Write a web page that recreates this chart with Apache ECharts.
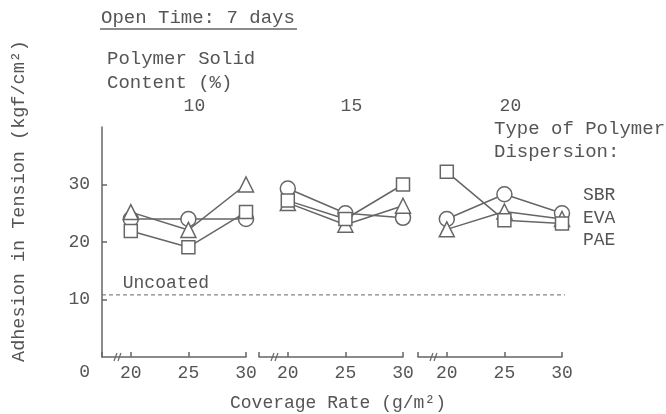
<!DOCTYPE html>
<html>
<head>
<meta charset="utf-8">
<script src="https://cdn.jsdelivr.net/npm/echarts@6/dist/echarts.min.js"></script>
<style>
  html, body { margin: 0; padding: 0; background: #fff; }
  #chart { width: 666px; height: 414px; }
</style>
</head>
<body>
<div id="chart"></div>
<script>
// coverage rate (g/m2) at each panel, polymer solid content (%) per panel
const coverage = [20, 25, 30]
const solidContent = ['10', '15', '20']
// adhesion in tension (kgf/cm2), one row per panel
const sbr = [[24, 24, 24], [29.3, 25, 24.2], [24, 28.3, 25]]
const eva = [[25.2, 22.1, 30], [26.8, 23, 26.3], [22.2, 25.3, 24]]
const pae = [[21.9, 19.1, 25.2], [27.2, 24, 30], [32.2, 23.8, 23.2]]
const uncoated = 10.8
const yTicks = [10, 20, 30]
const xTicks = [20, 25, 30]

const FONT = "'Liberation Mono', 'DejaVu Sans Mono', monospace"
const TXT = '#555'
const LINE = '#666'

const panelLeft = [102, 259, 418]
const panelWidth = 144
const gridTop = 127
const gridHeight = 230

const polymers = [
  { name: 'SBR', data: sbr, symbol: 'circle', size: 15 },
  { name: 'EVA', data: eva, symbol: 'triangle', size: 15 },
  { name: 'PAE', data: pae, symbol: 'rect', size: 13 }
]

const grids = panelLeft.map(l => ({ left: l, width: panelWidth, top: gridTop, height: gridHeight }))
grids.push({ left: 102, width: 463, top: gridTop, height: gridHeight })

const xAxes = panelLeft.map((l, i) => ({
  type: 'value',
  gridIndex: i,
  min: 17.5,
  max: 30,
  axisLine: { lineStyle: { color: LINE, width: 1.5 } },
  axisTick: { inside: true, length: 5, customValues: [17.5].concat(xTicks), lineStyle: { color: LINE, width: 1.5 } },
  axisLabel: { customValues: xTicks, color: TXT, fontFamily: FONT, fontSize: 18, margin: 7 },
  splitLine: { show: false }
}))
xAxes.push({ type: 'value', gridIndex: 3, min: 0, max: 1, show: false })

const yAxes = grids.map((g, i) => ({
  type: 'value',
  gridIndex: i,
  min: 0,
  max: 40,
  show: i === 0,
  axisLine: { show: true, lineStyle: { color: LINE, width: 1.5 } },
  axisTick: { inside: true, length: 5, customValues: yTicks, lineStyle: { color: LINE, width: 1.5 } },
  axisLabel: { customValues: yTicks, color: TXT, fontFamily: FONT, fontSize: 18, margin: 12 },
  splitLine: { show: false }
}))

const series = []
panelLeft.forEach((l, i) => {
  polymers.forEach(p => {
    series.push({
      name: p.name + ' ' + solidContent[i],
      type: 'line',
      xAxisIndex: i,
      yAxisIndex: i,
      data: coverage.map((c, k) => [c, p.data[i][k]]),
      symbol: p.symbol,
      symbolSize: p.size,
      showAllSymbol: true,
      lineStyle: { color: LINE, width: 1.5 },
      itemStyle: { color: '#fff', borderColor: LINE, borderWidth: 1.5 },
      animation: false
    })
  })
})
series.push({
  name: 'Uncoated',
  type: 'line',
  xAxisIndex: 3,
  yAxisIndex: 3,
  data: [[0, uncoated], [1, uncoated]],
  symbol: 'none',
  lineStyle: { color: LINE, width: 1, type: [4, 3] },
  animation: false
})

const txt = (text, x, y, extra, size) => ({
  type: 'text',
  x: x,
  y: y,
  style: Object.assign({ text: text, fill: TXT, font: (size || 18) + 'px ' + FONT, verticalAlign: 'middle' }, extra || {})
})

const chartInstance = echarts.init(document.getElementById('chart'))
chartInstance.setOption({
  animation: false,
  grid: grids,
  xAxis: xAxes,
  yAxis: yAxes,
  series: series
})

const graphics = [
  txt('Open Time: 7 days', 101, 18, null, 19),
  { type: 'line', shape: { x1: 100, y1: 29, x2: 297, y2: 29 }, style: { stroke: LINE, lineWidth: 1.5 } },
  txt('Polymer Solid', 107, 59, null, 19),
  txt('Content (%)', 107, 83, null, 19),
  txt('Type of Polymer', 494, 129, null, 19),
  txt('Dispersion:', 494, 152, null, 19),
  txt('SBR', 583, 195),
  txt('EVA', 583, 218),
  txt('PAE', 583, 240),
  txt('0', 90, 372, { align: 'right' }),
  txt('Coverage Rate (g/m²)', 338, 403, { align: 'center' }),
  Object.assign(txt('Adhesion in Tension (kgf/cm²)', 19, 201, { align: 'center' }, 18.5), { rotation: Math.PI / 2 })
]

solidContent.forEach((s, i) => {
  const cx = chartInstance.convertToPixel({ xAxisIndex: i }, 25)
  graphics.push(txt(s, cx + 6, 106, { align: 'center' }))
  // axis break marks near the start of each panel
  const bx = chartInstance.convertToPixel({ xAxisIndex: i }, 18.8)
  const by = chartInstance.convertToPixel({ yAxisIndex: i }, 0)
  graphics.push({ type: 'rect', shape: { x: bx - 1, y: by - 2, width: 4, height: 4 }, style: { fill: '#fff' } })
  ;[-1, 3].forEach(d => {
    graphics.push({ type: 'line', shape: { x1: bx + d - 2, y1: by + 4, x2: bx + d + 1, y2: by - 4 }, style: { stroke: LINE, lineWidth: 1.2 } })
  })
})

const ux = chartInstance.convertToPixel({ xAxisIndex: 0 }, 19.3)
const uy = chartInstance.convertToPixel({ yAxisIndex: 3 }, uncoated)
graphics.push(txt('Uncoated', ux, uy - 12))

chartInstance.setOption({ graphic: graphics })
</script>
</body>
</html>
